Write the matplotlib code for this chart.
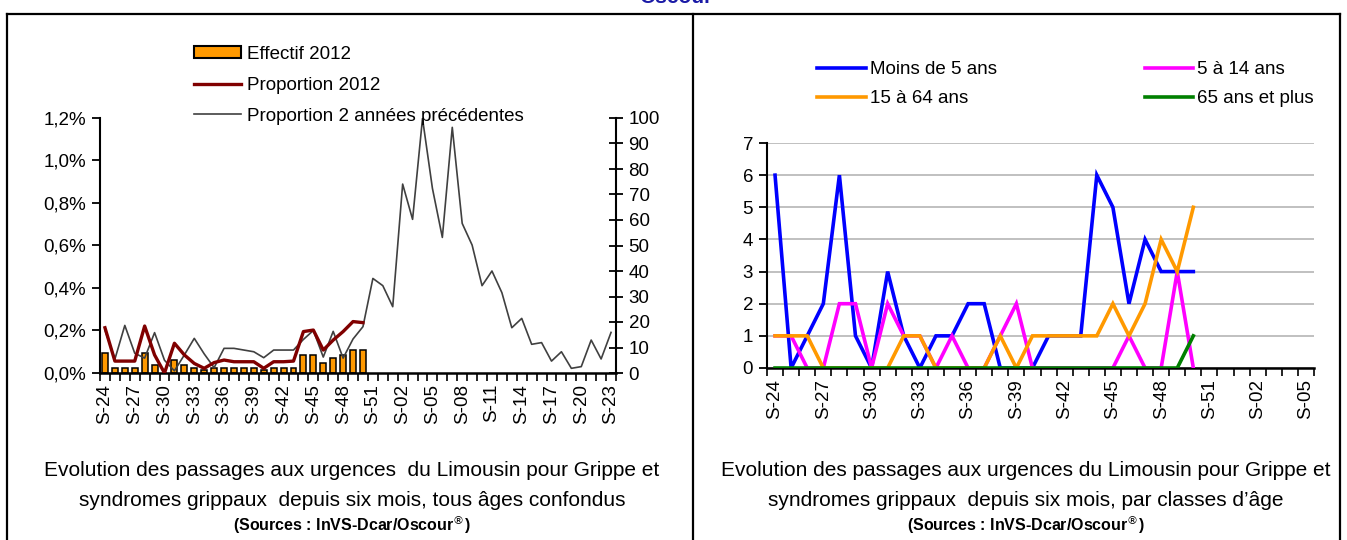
import matplotlib
matplotlib.use("Agg")
import matplotlib.pyplot as plt
import numpy as np
from matplotlib.lines import Line2D
from matplotlib.patches import Patch
from matplotlib.ticker import FuncFormatter, FixedLocator

plt.rcParams['font.family'] = ['Liberation Sans', 'DejaVu Sans']

# ---- data -------------------------------------------------------------
weeks_all = ['S-%02d' % w for w in list(range(24, 53)) + list(range(1, 24))]   # 52 weeks
weeks_age = weeks_all[:34]                                                    # S-24 .. S-05

effectif_2012 = [8, 2, 2, 2, 8, 3, 0, 5, 3, 2, 1, 2, 2, 2, 2, 2, 1, 2, 2, 2,
                 7, 7, 4, 6, 7, 9, 9]
proportion_2012 = [0.213, 0.056, 0.056, 0.056, 0.221, 0.085, 0.0, 0.14, 0.085, 0.045,
                   0.022, 0.049, 0.061, 0.053, 0.053, 0.053, 0.022, 0.053, 0.053, 0.056,
                   0.195, 0.202, 0.108, 0.155, 0.195, 0.242, 0.237]
proportion_prec = [0.202, 0.065, 0.224, 0.093, 0.07, 0.19, 0.06, 0.01, 0.085, 0.163,
                   0.09, 0.025, 0.116, 0.116, 0.108, 0.1, 0.072, 0.108, 0.108, 0.108,
                   0.158, 0.2, 0.075, 0.196, 0.07, 0.16, 0.218, 0.445, 0.411, 0.312,
                   0.889, 0.723, 1.198, 0.869, 0.638, 1.156, 0.704, 0.602, 0.411, 0.48,
                   0.378, 0.213, 0.257, 0.135, 0.143, 0.056, 0.1, 0.022, 0.03, 0.155,
                   0.066, 0.191]

moins5 = [6, 0, 1, 2, 6, 1, 0, 3, 1, 0, 1, 1, 2, 2, 0, 0, 0, 1, 1, 1, 6, 5, 2, 4, 3, 3, 3]
a5_14 = [1, 1, 0, 0, 2, 2, 0, 2, 1, 1, 0, 1, 0, 0, 1, 2, 0, 0, 0, 0, 0, 0, 1, 0, 0, 3, 0]
a15_64 = [1, 1, 1, 0, 0, 0, 0, 0, 1, 1, 0, 0, 0, 0, 1, 0, 1, 1, 1, 1, 1, 2, 1, 2, 4, 3, 5]
a65 = [0] * 26 + [1]

W, H = 1347, 540
fig = plt.figure(figsize=(W / 100, H / 100), dpi=100)

def fx(px):
    return px / W

def fy(py):
    return 1 - py / H

# frame lines
for x in (7, 693, 1340):
    fig.add_artist(Line2D([fx(x), fx(x)], [fy(14), 0], color='black', lw=1.6))
fig.add_artist(Line2D([fx(7), fx(1340)], [fy(14), fy(14)], color='black', lw=1.6))
fig.text(fx(676), fy(3), 'Oscour', color='#1a1aa6', fontsize=15, fontweight='bold',
         ha='center', va='baseline')

fs = 13.5

# ---- left chart -------------------------------------------------------
ax = fig.add_axes([fx(100), fy(373), fx(616) - fx(100), fy(118) - fy(373)])
x_all = np.arange(len(weeks_all))
ax.bar(x_all[:len(effectif_2012)], effectif_2012, width=0.6, color='#ff9900',
       edgecolor='black', linewidth=1.1, zorder=2)
ax.set_ylim(0, 100)
ax.set_xlim(-0.5, len(weeks_all) - 0.5)

axp = ax.twinx()
axp.plot(x_all[:len(proportion_prec)], proportion_prec, color='#404040', lw=1.2, zorder=3)
axp.plot(x_all[:len(proportion_2012)], proportion_2012, color='#800000', lw=2.4, zorder=4)
axp.set_ylim(0, 1.2)
axp.set_yticks(np.arange(0, 1.21, 0.2))
axp.yaxis.tick_left()
axp.yaxis.set_major_formatter(FuncFormatter(lambda v, p: ('%.1f%%' % v).replace('.', ',')))
axp.tick_params(axis='y', direction='out', length=6, width=1.3, labelsize=fs, pad=4)

# counts axis on the right (set after twinx, which resets it)
ax.yaxis.tick_right()
ax.set_yticks(np.arange(0, 101, 10))
ax.tick_params(axis='y', direction='inout', length=10, width=1.3, labelsize=fs, pad=4)

for s in ('top', 'left'):
    ax.spines[s].set_visible(False)
ax.spines['right'].set_visible(True)
ax.spines['right'].set_linewidth(1.5)
ax.spines['bottom'].set_linewidth(1.8)
for s in ('top', 'right', 'bottom'):
    axp.spines[s].set_visible(False)
axp.spines['left'].set_visible(True)
axp.spines['left'].set_linewidth(1.5)

ax.xaxis.set_major_locator(FixedLocator(x_all[::3]))
ax.set_xticklabels(weeks_all[::3], rotation=90)
ax.xaxis.set_minor_locator(FixedLocator(np.arange(-0.5, len(weeks_all), 1)))
ax.tick_params(axis='x', which='major', length=0, labelsize=fs, pad=8)
ax.tick_params(axis='x', which='minor', length=6, width=1.2, direction='out')

handles = [Patch(facecolor='#ff9900', edgecolor='black', linewidth=1.5),
           Line2D([], [], color='#800000', lw=2.4),
           Line2D([], [], color='#404040', lw=1.2)]
fig.legend(handles, ['Effectif 2012', 'Proportion 2012', 'Proportion 2 années précédentes'],
           loc='upper left', bbox_to_anchor=(fx(194), fy(46)), frameon=False,
           fontsize=fs, handlelength=2.5, handleheight=0.6, handletextpad=0.35,
           labelspacing=0.74, borderpad=0, borderaxespad=0)

# ---- right chart ------------------------------------------------------
ar = fig.add_axes([fx(767), fy(368), fx(1314) - fx(767), fy(143) - fy(368)])
x_age = np.arange(len(weeks_age))
series = [(moins5, '#0000ff', 'Moins de 5 ans'),
          (a5_14, '#ff00ff', '5 à 14 ans'),
          (a15_64, '#ff9900', '15 à 64 ans'),
          (a65, '#008000', '65 ans et plus')]
lines = {}
for vals, col, lab in series:
    lines[lab], = ar.plot(x_age[:len(vals)], vals, color=col, lw=2.6, label=lab,
                          solid_joinstyle='miter', zorder=3)
ar.set_ylim(0, 7)
ar.set_xlim(-0.5, len(weeks_age) - 0.5)
ar.set_yticks(range(0, 8))
ar.yaxis.grid(True, color='#c0c0c0', lw=1.4)
ar.set_axisbelow(True)
for s in ('top', 'right'):
    ar.spines[s].set_visible(False)
ar.spines['left'].set_linewidth(1.5)
ar.spines['bottom'].set_linewidth(1.8)
ar.tick_params(axis='y', direction='out', length=6, width=1.3, labelsize=fs, pad=4)
ar.xaxis.set_major_locator(FixedLocator(x_age[::3]))
ar.set_xticklabels(weeks_age[::3], rotation=90)
ar.xaxis.set_minor_locator(FixedLocator(np.arange(-0.5, len(weeks_age), 1)))
ar.tick_params(axis='x', which='major', length=0, labelsize=fs, pad=8)
ar.tick_params(axis='x', which='minor', length=6, width=1.2, direction='out')

order = ['Moins de 5 ans', '15 à 64 ans', '5 à 14 ans', '65 ans et plus']
fig.legend([lines[k] for k in order], order, loc='upper left', ncol=2,
           bbox_to_anchor=(fx(817), fy(61)), frameon=False, fontsize=fs,
           handlelength=2.6, handletextpad=0.2, labelspacing=0.65,
           columnspacing=7.9, borderpad=0, borderaxespad=0)

# ---- captions ---------------------------------------------------------
cap = 15
fig.text(fx(352), fy(470), 'Evolution des passages aux urgences  du Limousin pour Grippe et',
         ha='center', va='center', fontsize=cap)
fig.text(fx(352), fy(500), 'syndromes grippaux  depuis six mois, tous âges confondus',
         ha='center', va='center', fontsize=cap)
fig.text(fx(352), fy(525), '(Sources : InVS-Dcar/Oscour$^{®}$)',
         ha='center', va='center', fontsize=11.5, fontweight='bold')

fig.text(fx(1026), fy(470), 'Evolution des passages aux urgences du Limousin pour Grippe et',
         ha='center', va='center', fontsize=cap)
fig.text(fx(1026), fy(500), 'syndromes grippaux  depuis six mois, par classes d’âge',
         ha='center', va='center', fontsize=cap)
fig.text(fx(1026), fy(525), '(Sources : InVS-Dcar/Oscour$^{®}$)',
         ha='center', va='center', fontsize=11.5, fontweight='bold')

fig.savefig('out.png', dpi=100)
